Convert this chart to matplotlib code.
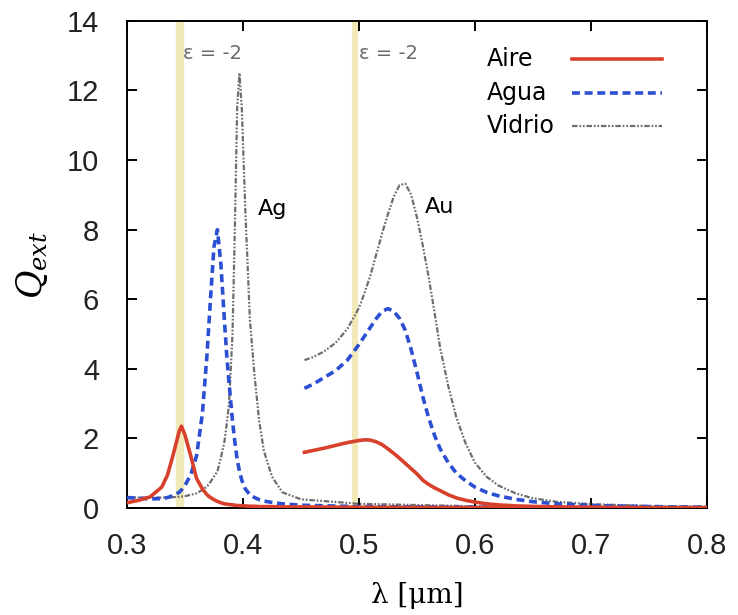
import matplotlib
matplotlib.use('Agg')
import matplotlib.pyplot as plt

plt.rcParams['mathtext.fontset'] = 'dejavuserif'

# Extinction efficiency spectra, Ag spheres (0.30-0.80 um)
lam_ag = [0.300, 0.310, 0.320, 0.330, 0.335, 0.340, 0.345, 0.347, 0.350, 0.355, 0.360,
          0.365, 0.369, 0.372, 0.375, 0.378, 0.381, 0.384, 0.386, 0.388, 0.391, 0.393,
          0.395, 0.397, 0.399, 0.402, 0.406, 0.410, 0.414, 0.418, 0.425, 0.434, 0.450,
          0.500, 0.600, 0.700, 0.800]
ag_aire = [0.15, 0.22, 0.32, 0.60, 0.95, 1.55, 2.20, 2.35, 2.10, 1.50, 0.85,
           0.55, 0.38, 0.30, 0.24, 0.19, 0.15, 0.12, 0.11, 0.10, 0.09, 0.08,
           0.07, 0.07, 0.06, 0.06, 0.05, 0.05, 0.04, 0.04, 0.04, 0.03, 0.03,
           0.02, 0.01, 0.01, 0.00]
ag_agua = [0.30, 0.28, 0.26, 0.27, 0.30, 0.36, 0.45, 0.52, 0.65, 0.95, 1.50,
           2.70, 4.40, 6.00, 7.50, 8.00, 7.00, 5.40, 4.40, 3.60, 2.50, 1.90,
           1.40, 1.05, 0.80, 0.55, 0.38, 0.30, 0.24, 0.20, 0.16, 0.12, 0.08,
           0.04, 0.02, 0.01, 0.01]
ag_vidrio = [0.30, 0.30, 0.30, 0.30, 0.30, 0.31, 0.32, 0.33, 0.34, 0.38, 0.42,
             0.52, 0.62, 0.75, 0.90, 1.05, 1.45, 1.90, 2.40, 3.00, 5.00, 8.00,
             11.5, 12.5, 11.5, 8.60, 5.40, 3.80, 2.50, 1.65, 0.90, 0.45, 0.25,
             0.12, 0.05, 0.03, 0.02]

# Au spheres (0.453-0.80 um)
lam_au = [0.453, 0.460, 0.470, 0.480, 0.490, 0.500, 0.505, 0.510, 0.515, 0.520, 0.525,
          0.530, 0.535, 0.540, 0.545, 0.550, 0.555, 0.560, 0.565, 0.570, 0.577, 0.584,
          0.592, 0.600, 0.610, 0.620, 0.635, 0.650, 0.670, 0.700, 0.750, 0.800]
au_aire = [1.60, 1.65, 1.72, 1.80, 1.88, 1.94, 1.96, 1.95, 1.90, 1.82, 1.70,
           1.57, 1.43, 1.28, 1.13, 0.98, 0.80, 0.68, 0.58, 0.50, 0.38, 0.29,
           0.22, 0.17, 0.12, 0.09, 0.06, 0.045, 0.03, 0.02, 0.01, 0.01]
au_agua = [3.44, 3.55, 3.75, 3.95, 4.25, 4.70, 4.95, 5.20, 5.45, 5.65, 5.73,
           5.65, 5.45, 5.10, 4.55, 3.90, 3.20, 2.60, 2.10, 1.70, 1.30, 1.00,
           0.78, 0.60, 0.45, 0.35, 0.25, 0.18, 0.12, 0.07, 0.04, 0.02]
au_vidrio = [4.25, 4.33, 4.50, 4.75, 5.15, 5.75, 6.20, 6.70, 7.30, 7.90, 8.45,
             8.95, 9.28, 9.32, 9.00, 8.35, 7.55, 6.65, 5.65, 4.60, 3.50, 2.60,
             1.85, 1.30, 0.90, 0.65, 0.42, 0.28, 0.18, 0.11, 0.06, 0.04]

media = ['Aire', 'Agua', 'Vidrio']
eps_lines = [0.3455, 0.497]  # wavelengths where eps = -2

red = '#d8402b'
blue = '#2c4fd2'
gray = '#6e6e6e'
styles = {
    'Aire': dict(color=red, lw=2.6, ls='-', zorder=5),
    'Agua': dict(color=blue, lw=2.6, ls=(0, (2.2, 1.3)), zorder=4),
    'Vidrio': dict(color=gray, lw=1.6, ls=(0, (2.5, 0.8, 0.8, 0.8, 0.8, 0.8)), zorder=3),
}

fig = plt.figure(figsize=(7.38, 6.15), dpi=100)
ax = fig.add_axes([0.172, 0.174, 0.786, 0.792])

for xl, w in zip(eps_lines, [6, 4.5]):
    ax.axvline(xl, color='#f1eab8', lw=w, zorder=1)
    ax.text(xl + 0.003, 13.05, 'ε = -2', color='#6a6a6a', fontsize=14,
            family='DejaVu Sans', va='center', ha='left', zorder=3)

for name, ya, yu in zip(media, [ag_aire, ag_agua, ag_vidrio], [au_aire, au_agua, au_vidrio]):
    ax.plot(lam_ag, ya, **styles[name])
    ax.plot(lam_au, yu, **styles[name])

ax.text(0.413, 8.6, 'Ag', fontsize=16, family='DejaVu Sans', va='center')
ax.text(0.557, 8.65, 'Au', fontsize=16, family='DejaVu Sans', va='center')

# key in the upper right: label on the left, line sample on the right
for name, yk in zip(media, [0.922, 0.852, 0.785]):
    ax.text(0.621, yk, name, transform=ax.transAxes, fontsize=17,
            family='DejaVu Sans', va='center', ha='left')
    ax.plot([0.767, 0.922], [yk, yk], transform=ax.transAxes, **styles[name])

ax.set_xlim(0.3, 0.8)
ax.set_ylim(0, 14)
ax.set_xticks([0.3, 0.4, 0.5, 0.6, 0.7, 0.8])
ax.set_xticklabels(['0.3', '0.4', '0.5', '0.6', '0.7', '0.8'])
ax.set_yticks(range(0, 15, 2))
ax.tick_params(direction='in', length=7, width=1.4, top=True, right=True,
               labelsize=21)
ax.tick_params(axis='x', pad=17)
ax.tick_params(axis='y', pad=20)
for lab in ax.get_xticklabels() + ax.get_yticklabels():
    lab.set_family('Liberation Sans')
    lab.set_color('#222222')
for s in ax.spines.values():
    s.set_linewidth(1.4)

ax.set_xlabel('λ [μm]', family='DejaVu Serif', fontsize=20, labelpad=16)
ax.set_ylabel(r'$Q_{ext}$', fontsize=25, labelpad=12)

fig.savefig('out.png', dpi=100)
